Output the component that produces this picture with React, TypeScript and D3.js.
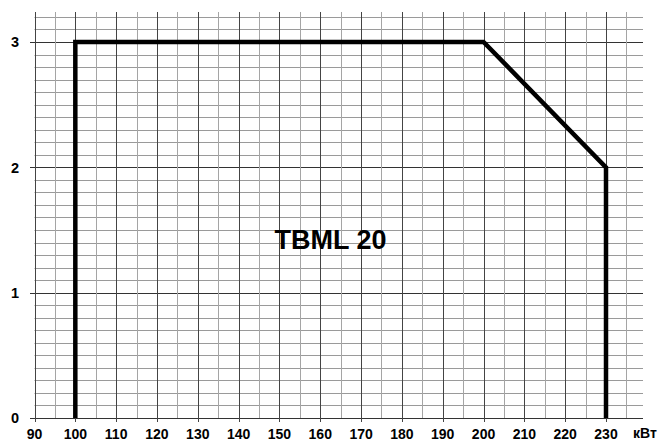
import React from "react";
import * as d3 from "d3";

const xTicks = [90, 100, 110, 120, 130, 140, 150, 160, 170, 180, 190, 200, 210, 220, 230];
const yTicks = [0, 1, 2, 3];
const rangeX = [100, 100, 200, 230, 230];
const rangeY = [0, 3, 3, 2, 0];
const title = "TBML 20";
const unit = "кВт";

export default function App() {
  const W = 662, H = 443;
  const x = d3.scaleLinear().domain([90, 230]).range([34.5, 606]);
  const y = d3.scaleLinear().domain([0, 3]).range([418, 42]);

  const vLines = d3.range(90, 236, 5);
  const hLines = d3.range(0, 33).map((i) => i / 10);

  const pts = rangeX.map((v, i) => [x(v), y(rangeY[i])] as [number, number]);
  const line = d3.line()(pts) || "";

  const font = "Arial, 'Liberation Sans', sans-serif";

  return (
    <svg width={W} height={H} style={{ position: "absolute", left: 0, top: 0, background: "#fff" }}>
      <rect width={W} height={H} fill="#fff" />
      {hLines.map((v, i) => {
        const major = i % 10 === 0;
        return (
          <line
            key={"h" + i}
            x1={major ? 30 : x(90)}
            x2={643}
            y1={Math.round(y(v)) + 0.5}
            y2={Math.round(y(v)) + 0.5}
            stroke={major ? "#333" : "#9a9a9a"}
            strokeWidth={1}
          />
        );
      })}
      {vLines.map((v, i) => {
        const major = v % 10 === 0;
        return (
          <line
            key={"v" + i}
            x1={Math.round(x(v)) + 0.5}
            x2={Math.round(x(v)) + 0.5}
            y1={12}
            y2={major ? 422 : y(0)}
            stroke={major ? "#444" : "#a5a5a5"}
            strokeWidth={1}
          />
        );
      })}
      <path d={line} fill="none" stroke="#000" strokeWidth={4.5} strokeLinejoin="miter" />
      {xTicks.map((v) => (
        <text
          key={"xt" + v}
          x={x(v)}
          y={439}
          textAnchor="middle"
          fontFamily={font}
          fontWeight="bold"
          fontSize={14}
          fill="#000"
        >
          {v}
        </text>
      ))}
      <text x={645} y={438} textAnchor="middle" fontFamily={font} fontWeight="bold" fontSize={14} fill="#000">
        {unit}
      </text>
      {yTicks.map((v) => (
        <text
          key={"yt" + v}
          x={19}
          y={y(v)}
          dy="0.36em"
          textAnchor="end"
          fontFamily={font}
          fontWeight="bold"
          fontSize={14.5}
          fill="#000"
        >
          {v}
        </text>
      ))}
      <text
        x={x(162.5)}
        y={249}
        textAnchor="middle"
        fontFamily={font}
        fontWeight="bold"
        fontSize={27}
        fill="#000"
      >
        {title}
      </text>
    </svg>
  );
}
